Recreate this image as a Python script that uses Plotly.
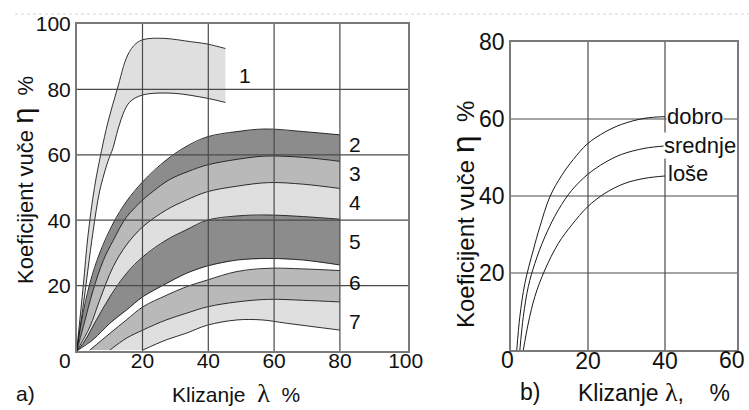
import plotly.graph_objects as go

W, H = 749, 410
FONT = "Liberation Sans, Arial, sans-serif"

# ---------------- chart a) data ----------------
b1_up_x = [0, 2, 3.4, 5.4, 7.5, 9.5, 12.3, 15.5, 18, 20.5, 26.6, 34.6, 39.6, 45.2]
b1_up_y = [0, 20, 35, 50, 61, 70, 80, 90.5, 94, 95.3, 95.6, 94.6, 93.9, 92.5]
b1_lo_x = [0, 2, 4.9, 7, 9.5, 11, 12.5, 14.5, 16, 18, 21.5, 29.6, 39.6, 45.2]
b1_lo_y = [0, 14, 36, 49, 58, 62, 67.6, 73.5, 76, 77.5, 78.6, 78.8, 77.3, 76]

b2_top_x = [0, 1.5, 4, 7, 11.1, 15.1, 20.1, 27.2, 33.2, 39.7, 48.7, 57.4, 68.9, 80]
b2_top_y = [0, 9.4, 20.7, 30, 39.1, 45.7, 51.8, 58.4, 62.5, 65.5, 67.1, 67.9, 67.1, 66.1]
b3_top_x = [0, 2, 5, 8.1, 11.1, 15.1, 20.1, 23.2, 28.2, 35.2, 39.7, 48.7, 57.4, 68.9, 80]
b3_top_y = [0, 7.4, 18.6, 27.7, 33.8, 40.9, 46.2, 48.8, 52.4, 55.4, 56.9, 58.6, 59.6, 59.2, 58]
b4_top_x = [0, 4, 7, 11.1, 15.1, 20.1, 27.2, 33.2, 39.7, 48.7, 58.4, 68.9, 80]
b4_top_y = [0, 7.4, 15.6, 25.8, 32.4, 38, 43.1, 46.1, 48.7, 50.4, 51.5, 51, 49.7]
b5_top_x = [0, 2, 6, 10.1, 15.1, 20.1, 27.2, 33.2, 39.7, 48.7, 58.4, 68.9, 80]
b5_top_y = [0, 2.4, 9.5, 16.6, 23.7, 28.8, 33.9, 37, 40, 41.3, 41.6, 41.1, 40.3]
b5_bot_x = [0, 5, 10.1, 15.1, 20.1, 27.2, 33.2, 39.7, 48.7, 58.4, 68.9, 80]
b5_bot_y = [0, 3.5, 8.5, 12.5, 16.6, 20.6, 23.7, 26, 27.8, 28.3, 27.8, 26.3]
b6_top_x = [4, 10.1, 15.1, 20.1, 27.2, 33.2, 39.7, 48.7, 58.4, 68.9, 80]
b6_top_y = [0.3, 5.4, 9.5, 13.5, 17, 19.6, 21.7, 24.3, 25.3, 25.1, 24.6]
b6_bot_x = [10.1, 15.1, 20.1, 27.2, 33.2, 39.7, 48.7, 58.4, 68.9, 80]
b6_bot_y = [0.3, 3.9, 6.4, 9.5, 11.5, 13.5, 15, 15.8, 15.5, 15]
b7_bot_x = [20.1, 27.2, 33.2, 39.7, 48.7, 56.4, 63.7, 80]
b7_bot_y = [0.3, 3.4, 5.4, 7.9, 9.5, 9.5, 8.5, 6.4]

band_labels = ["1", "2", "3", "4", "5", "6", "7"]
band_label_x = [51.2, 84.6, 84.6, 84.6, 84.6, 84.6, 84.6]
band_label_y = [84.4, 63.3, 54.4, 45.3, 33.6, 20.8, 8.9]

a_xticks = [20, 40, 60, 80, 100]
a_yticks = [20, 40, 60, 80, 100]
a_grid = [20, 40, 60, 80]

# ---------------- chart b) data ----------------
dobro_x = [1.5, 2.3, 3.6, 5.8, 7.5, 10.1, 13.2, 16.2, 19.9, 24.4, 28.7, 34.8, 40]
dobro_y = [0, 8.7, 17.3, 26, 32, 39.8, 45.4, 49.5, 53.6, 56.6, 58.6, 60.2, 60.6]
srednje_x = [2.3, 3.2, 4.5, 6.2, 8.8, 12.3, 15.8, 19.9, 24.4, 28.7, 34.8, 40]
srednje_y = [0, 8.7, 16.5, 22.5, 29.4, 36.4, 41.5, 45.6, 48.7, 50.8, 52.4, 53]
lose_x = [3.2, 4.5, 6.2, 8.8, 12.3, 15.8, 19.9, 24.4, 29.6, 34.8, 40]
lose_y = [0, 7, 13.9, 20.8, 27.7, 32.5, 37.2, 40.7, 43.3, 44.6, 45.2]

b_names = ["dobro", "srednje", "loše"]
b_label_x = [40.3, 39.6, 40.6]
b_label_y = [60.6, 53.2, 45.8]

b_xticks = [20, 40]
b_yticks = [20, 40, 60, 80]
b_grid_x = [20, 40]
b_grid_y = [20, 40, 60]

DARK = "#8c8c8c"
MID = "#b9b9b9"
LIGHT = "#dfdfdf"
LINE = "#1a1a1a"
GRID = "#4a4a4a"
FRAME = "#7a7a7a"

fig = go.Figure()


def band(ux, uy, lx, ly, color):
    fig.add_trace(go.Scatter(
        x=list(ux) + list(lx)[::-1], y=list(uy) + list(ly)[::-1],
        fill="toself", fillcolor=color, mode="none", hoverinfo="skip",
        showlegend=False, xaxis="x", yaxis="y"))


def curve(x, y, xa="x", ya="y", w=1.0):
    fig.add_trace(go.Scatter(x=x, y=y, mode="lines", line=dict(color=LINE, width=w),
                             line_shape="spline", hoverinfo="skip",
                             showlegend=False, xaxis=xa, yaxis=ya))


band(b1_up_x, b1_up_y, b1_lo_x, b1_lo_y, LIGHT)
band(b2_top_x, b2_top_y, b3_top_x, b3_top_y, DARK)
band(b3_top_x, b3_top_y, b4_top_x, b4_top_y, MID)
band(b4_top_x, b4_top_y, b5_top_x, b5_top_y, LIGHT)
band(b5_top_x, b5_top_y, b5_bot_x, b5_bot_y, DARK)
band(b6_top_x, b6_top_y, b6_bot_x, b6_bot_y, MID)
band(b6_bot_x, b6_bot_y, b7_bot_x, b7_bot_y, LIGHT)

for cx, cy in [(b1_up_x, b1_up_y), (b1_lo_x, b1_lo_y), (b2_top_x, b2_top_y),
               (b3_top_x, b3_top_y), (b4_top_x, b4_top_y), (b5_top_x, b5_top_y),
               (b5_bot_x, b5_bot_y), (b6_top_x, b6_top_y), (b6_bot_x, b6_bot_y),
               (b7_bot_x, b7_bot_y)]:
    curve(cx, cy, w=0.9)

for cx, cy in [(dobro_x, dobro_y), (srednje_x, srednje_y), (lose_x, lose_y)]:
    curve(cx, cy, "x2", "y2", w=1.0)

shapes = []
for g in a_grid:
    shapes.append(dict(type="line", xref="x", yref="y domain", x0=g, x1=g, y0=0, y1=1,
                       line=dict(color=GRID, width=1.2), layer="above"))
    shapes.append(dict(type="line", xref="x domain", yref="y", x0=0, x1=1, y0=g, y1=g,
                       line=dict(color=GRID, width=1.2), layer="above"))
for g in b_grid_x:
    shapes.append(dict(type="line", xref="x2", yref="y2 domain", x0=g, x1=g, y0=0, y1=1,
                       line=dict(color=GRID, width=1.2), layer="below"))
for g in b_grid_y:
    shapes.append(dict(type="line", xref="x2 domain", yref="y2", x0=0, x1=1, y0=g, y1=g,
                       line=dict(color=GRID, width=1.2), layer="below"))
# faint dotted line across the top of the picture
shapes.append(dict(type="line", xref="paper", yref="paper", x0=0.02, x1=1, y0=1 - 14 / H, y1=1 - 14 / H,
                   line=dict(color="#d6d6d6", width=1, dash="dot")))

ann = []
for t, x, y in zip(band_labels, band_label_x, band_label_y):
    ann.append(dict(text=t, x=x, y=y, xref="x", yref="y", showarrow=False,
                    xanchor="center", yanchor="middle",
                    font=dict(size=21, color="#111", family=FONT)))
for t, x, y in zip(b_names, b_label_x, b_label_y):
    ann.append(dict(text=t, x=x, y=y, xref="x2", yref="y2", showarrow=False,
                    xanchor="left", yanchor="middle", bgcolor="white", borderpad=0,
                    font=dict(size=22, color="#111", family=FONT)))

TXT = dict(size=21, color="#111", family=FONT)
TXTB = dict(size=23, color="#111", family=FONT)
NB = "\u00a0"


def pa(text, px, py, font=TXT, **kw):
    d = dict(text=text, x=px / W, y=1 - py / H, xref="paper", yref="paper",
             showarrow=False, xanchor="center", yanchor="middle", font=font)
    d.update(kw)
    return d


LAM = "<span style='font-family:Liberation Serif;font-size:26px'>λ</span>"
ann += [
    pa("0", 65, 360),
    pa("0", 507, 360, font=TXTB),
    pa("60", 732, 360, font=TXTB),
    pa("a)", 25, 393),
    pa("b)", 530, 392, font=TXTB),
    pa("Klizanje" + NB + " " + LAM + NB + " %", 236, 393),
    pa("Klizanje " + LAM + "," + NB + NB + NB + " %", 654, 392, font=TXTB),
    pa("Koeficijent vuče <span style='font-size:29px'>η</span>" + NB + " %", 23, 180,
       font=dict(size=22, color="#111", family=FONT), textangle=-90),
    pa("Koeficijent vuče <span style='font-size:32px'>η</span>" + NB + " %", 463, 215,
       font=dict(size=24, color="#111", family=FONT), textangle=-90),
]

axis_common = dict(showgrid=False, zeroline=False, showline=True, mirror=True,
                   linecolor=FRAME, linewidth=1.5, ticks="", fixedrange=True,
                   automargin=False)

fig.update_layout(
    template="none",
    width=W, height=H, margin=dict(l=0, r=0, t=0, b=0, pad=0, autoexpand=False),
    paper_bgcolor="white", plot_bgcolor="white", showlegend=False,
    xaxis=dict(domain=[76.7 / W, 408 / W], range=[0, 100.7], tickvals=a_xticks,
               anchor="y", ticklabelstandoff=-10, tickfont=TXT, **axis_common),
    yaxis=dict(domain=[1 - 351 / H, 1 - 24 / H], range=[0, 100], tickvals=a_yticks,
               anchor="x", ticklabelstandoff=0, tickfont=TXT, **axis_common),
    xaxis2=dict(domain=[511 / W, 737 / W], range=[0, 58.7], tickvals=b_xticks,
                anchor="y2", ticklabelstandoff=-10, tickfont=TXTB, **axis_common),
    yaxis2=dict(domain=[1 - 350 / H, 1 - 42 / H], range=[0, 80], tickvals=b_yticks,
                anchor="x2", ticklabelstandoff=0, tickfont=TXTB, **axis_common),
    shapes=shapes, annotations=ann,
    font=dict(family=FONT),
)

fig.write_html("out.html", config={"displayModeBar": False},
               post_script="document.body.style.margin='0';document.body.style.overflow='hidden';")
